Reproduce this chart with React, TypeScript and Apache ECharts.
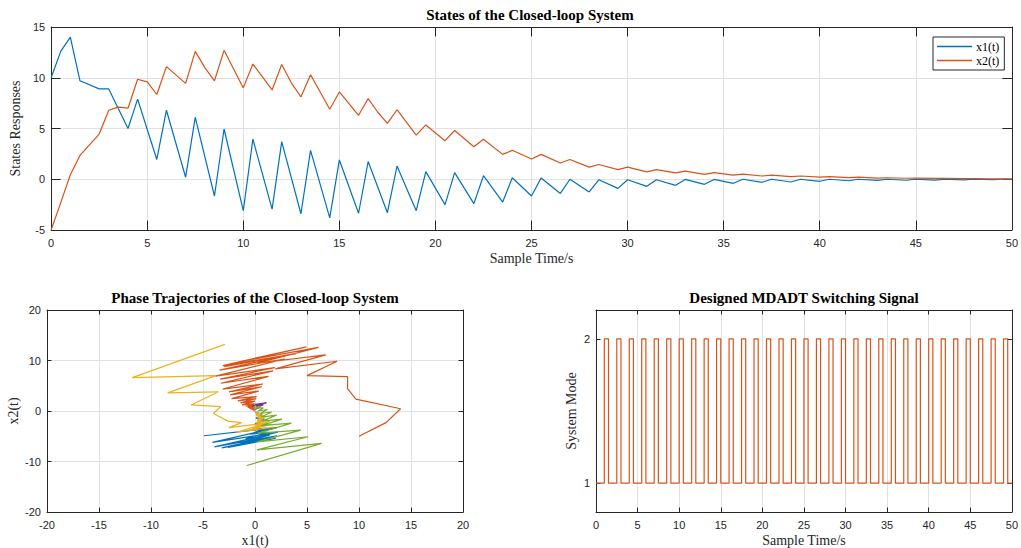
import React, { useEffect, useRef } from "react";
import * as echarts from "echarts";

// ---------- Top chart: states ----------
const x1Time = [0, 0.5, 1, 1.5, 2.5, 3, 4, 4.5, 5.5, 6, 7, 7.5, 8.5, 9, 10, 10.5, 11.5, 12, 13, 13.5, 14.5, 15, 16, 16.5, 17.5, 18, 19, 19.5, 20.5, 21, 22, 22.5, 23.5, 24, 25, 25.5, 26.5, 27, 28, 28.5, 29.5, 30, 31, 31.5, 32.5, 33, 34, 34.5, 35.5, 36, 37, 37.5, 38.5, 39, 40, 40.5, 41.5, 42, 43, 43.5, 44.5, 45, 46, 46.5, 47.5, 48, 49, 49.5, 50];
const x1Values = [10, 12.6, 14.0, 9.7, 8.9, 8.9, 5.0, 7.9, 1.95, 6.8, 0.2, 6.1, -1.65, 4.95, -3.1, 3.95, -2.95, 3.7, -3.4, 2.85, -3.8, 1.9, -3.35, 1.75, -3.3, 1.3, -3.1, 0.75, -2.5, 0.65, -2.4, 0.35, -2.25, 0.15, -1.65, 0.12, -1.4, 0.0, -1.25, -0.05, -0.9, -0.05, -0.7, -0.05, -0.6, -0.02, -0.5, -0.02, -0.4, 0.0, -0.3, 0.0, -0.27, 0.0, -0.2, 0.0, -0.15, 0.0, -0.12, 0.0, -0.1, 0.0, -0.08, 0.0, -0.06, 0.0, -0.04, 0.0, 0.0];

const x2Time = [0, 0.5, 1, 1.5, 2.5, 3, 3.5, 4, 4.5, 5, 5.5, 6, 7, 7.5, 8, 8.5, 9, 10, 10.5, 11.5, 12, 12.5, 13, 13.5, 14.5, 15, 16, 16.5, 17, 17.5, 18, 19, 19.5, 20.5, 21, 22, 22.5, 23.5, 24, 25, 25.5, 26.5, 27, 28, 28.5, 29.5, 30, 31, 31.5, 32.5, 33, 34, 34.5, 35.5, 36, 37, 37.5, 38.5, 39, 40, 40.5, 41.5, 42, 43, 43.5, 44.5, 45, 46, 46.5, 47.5, 48, 49, 49.5, 50];
const x2Values = [-5, -2.3, 0.45, 2.35, 4.45, 6.8, 7.1, 7.0, 9.85, 9.6, 8.35, 11.1, 9.45, 12.6, 11.0, 9.7, 12.7, 9.0, 11.35, 8.8, 11.3, 9.5, 8.1, 10.3, 6.9, 8.6, 6.3, 7.95, 6.6, 5.5, 6.85, 4.35, 5.35, 3.8, 4.8, 3.2, 3.95, 2.45, 2.85, 2.0, 2.45, 1.6, 1.95, 1.2, 1.45, 0.95, 1.2, 0.72, 0.95, 0.62, 0.8, 0.48, 0.65, 0.4, 0.5, 0.32, 0.4, 0.26, 0.32, 0.2, 0.25, 0.16, 0.2, 0.12, 0.15, 0.1, 0.12, 0.08, 0.09, 0.06, 0.07, 0.04, 0.05, 0.03];

// ---------- Phase trajectories (x1, x2) ----------
const phaseBlue = [[-4.9, -4.9], [2.1, -3.3], [-4.1, -6.2], [2.2, -4.2], [-3.9, -7.1], [2.1, -4.9], [-3.2, -7.3], [2.0, -5.4], [-2.6, -7.2], [1.8, -5.5], [-2.0, -6.8], [1.6, -5.3], [-1.4, -6.2], [1.4, -4.8], [-0.9, -5.5], [1.2, -4.2], [-0.5, -4.6], [1.1, -3.4], [-0.2, -3.6], [1.0, -2.6], [0.0, -2.6], [0.9, -1.6], [0.1, -1.4], [0.7, -0.8], [0.1, -0.6], [0.4, -0.3], [0.05, -0.2], [0, 0]];
const phaseYellow = [[-2.9, 13.2], [-11.8, 6.6], [-3.75, 7.0], [-8.4, 3.6], [-3.5, 3.8], [-6.15, 1.2], [-3.3, 0.85], [-4.0, -0.5], [-2.6, -2.0], [-1.3, -2.3], [-2.5, -3.3], [1.2, -2.4], [-1.8, -4.2], [1.8, -3.2], [-0.8, -3.9], [1.6, -2.6], [-0.2, -3.4], [1.4, -2.0], [0.0, -2.9], [1.2, -1.6], [0.1, -2.4], [1.0, -1.2], [0.2, -1.9], [0.8, -0.8], [0.2, -1.4], [0.6, -0.5], [0.1, -1.0], [0.4, -0.3], [0.1, -0.6], [0.2, -0.1], [0, -0.2]];
const phasePurple = [[-0.3, 1.0], [1.1, 1.6], [0.0, 1.3], [0.9, 1.5], [0.1, 1.0], [0.8, 1.2], [0.1, 0.7], [0.5, 0.8], [0, 0.3]];
const phaseGreen = [[-0.8, -10.8], [6.4, -6.4], [0.2, -7.7], [5.1, -5.1], [0.2, -6.1], [4.4, -3.8], [0.3, -4.4], [3.5, -2.4], [0.6, -2.9], [2.6, -1.6], [0.7, -2.0], [2.1, -0.8], [0.6, -1.2], [1.6, -0.2], [0.5, -0.5], [1.2, 0.3], [0.3, 0.0], [0.8, 0.6], [0.1, 0.6], [0.5, 0.9], [-0.1, 0.7], [0, 0.2]];

// ---------- Switching signal ----------
const switchTimes = [0, 1, 1.5, 2.5, 3, 4, 4.5, 5.5, 6, 7, 7.5, 8.5, 9, 10, 10.5, 11.5, 12, 13, 13.5, 14.5, 15, 16, 16.5, 17.5, 18, 19, 19.5, 20.5, 21, 22, 22.5, 23.5, 24, 25, 25.5, 26.5, 27, 28, 28.5, 29.5, 30, 31, 31.5, 32.5, 33, 34, 34.5, 35.5, 36, 37, 37.5, 38.5, 39, 40, 40.5, 41.5, 42, 43, 43.5, 44.5, 45, 46, 46.5, 47.5, 48, 49, 49.5, 50];
const switchModes = [1, 2, 1, 2, 1, 2, 1, 2, 1, 2, 1, 2, 1, 2, 1, 2, 1, 2, 1, 2, 1, 2, 1, 2, 1, 2, 1, 2, 1, 2, 1, 2, 1, 2, 1, 2, 1, 2, 1, 2, 1, 2, 1, 2, 1, 2, 1, 2, 1, 2, 1, 2, 1, 2, 1, 2, 1, 2, 1, 2, 1, 2, 1, 2, 1, 2, 1, 1];
const modeTicks = [1, 2];

const BLUE = "#0072BD";
const ORANGE = "#D95319";
const YELLOW = "#EDB120";
const PURPLE = "#7E2F8E";
const GREEN = "#77AC30";
const AX = "#262626";
const GRID = "#e1e1e1";
const SANS = "'Liberation Sans', Arial, Helvetica, sans-serif";
const SERIF = "'Liberation Serif', 'Times New Roman', serif";

const tickFont = { fontFamily: SANS, fontSize: 11, color: AX };
const nameFont = { fontFamily: SERIF, fontSize: 14, color: AX };

function zip(t: number[], v: number[]) {
  return t.map((tt, i) => [tt, v[i]]);
}

function mainX(grid: number, min: number, max: number, interval: number, name: string, tickLen: number, split = true) {
  return {
    gridIndex: grid, type: "value", min, max, interval, position: "bottom",
    name, nameLocation: "middle", nameGap: 21, nameTextStyle: nameFont,
    axisLine: { show: true, onZero: false, lineStyle: { color: AX, width: 1 } },
    axisTick: { show: true, inside: true, length: tickLen, lineStyle: { color: AX } },
    axisLabel: { margin: 7, ...tickFont },
    splitLine: { show: split, lineStyle: { color: GRID, width: 1 } },
  };
}
function boxX(grid: number, min: number, max: number, interval: number, tickLen: number) {
  return {
    gridIndex: grid, type: "value", min, max, interval, position: "top",
    axisLine: { show: true, onZero: false, lineStyle: { color: AX, width: 1 } },
    axisTick: { show: true, inside: true, length: tickLen, lineStyle: { color: AX } },
    axisLabel: { show: false }, splitLine: { show: false },
  };
}
function mainY(grid: number, min: number, max: number, interval: number | undefined, name: string, tickLen: number, gap: number, extra: any = {}) {
  return {
    gridIndex: grid, type: "value", min, max, interval, position: "left",
    name, nameLocation: "middle", nameGap: gap, nameTextStyle: nameFont,
    axisLine: { show: true, onZero: false, lineStyle: { color: AX, width: 1 } },
    axisTick: { show: true, inside: true, length: tickLen, lineStyle: { color: AX }, ...(extra.tick || {}) },
    axisLabel: { margin: 6, ...tickFont, ...(extra.label || {}) },
    splitLine: { show: extra.split !== false, lineStyle: { color: GRID, width: 1 } },
  };
}
function boxY(grid: number, min: number, max: number, interval: number | undefined, tickLen: number, extra: any = {}) {
  return {
    gridIndex: grid, type: "value", min, max, interval, position: "right",
    axisLine: { show: true, onZero: false, lineStyle: { color: AX, width: 1 } },
    axisTick: { show: true, inside: true, length: tickLen, lineStyle: { color: AX }, ...(extra.tick || {}) },
    axisLabel: { show: false }, splitLine: { show: false },
  };
}

function lineSeries(name: string, data: any[], color: string, xi: number, extra: any = {}) {
  return {
    name, type: "line", data, xAxisIndex: xi, yAxisIndex: xi,
    symbol: "none", showSymbol: false, silent: true,
    lineStyle: { color, width: 1.2 }, itemStyle: { color },
    ...extra,
  };
}

export default function App() {
  const ref = useRef<HTMLDivElement>(null);
  useEffect(() => {
    document.body.style.margin = "0";
    const chart = echarts.init(ref.current!, null, { renderer: "svg" });

    const x2Map = new Map<number, number>();
    x2Time.forEach((t, i) => x2Map.set(t, x2Values[i]));
    const phaseOrange = x1Time.filter((t) => x2Map.has(t)).map((t) => [x1Values[x1Time.indexOf(t)], x2Map.get(t)]);

    const titleStyle = { fontFamily: SERIF, fontSize: 15, fontWeight: "bold", color: "#000" };
    const option: any = {
      animation: false,
      backgroundColor: "#fff",
      title: [
        { text: "States of the Closed-loop System", left: 530, top: 7, textAlign: "center", textStyle: titleStyle, padding: 0 },
        { text: "Phase Trajectories of the Closed-loop System", left: 255, top: 290, textAlign: "center", textStyle: titleStyle, padding: 0 },
        { text: "Designed MDADT Switching Signal", left: 804, top: 290, textAlign: "center", textStyle: titleStyle, padding: 0 },
      ],
      legend: {
        data: [
          { name: "x1(t)", icon: "rect" },
          { name: "x2(t)", icon: "rect" },
        ],
        orient: "vertical", left: 933, top: 37,
        itemWidth: 35, itemHeight: 1.6, itemGap: 1, padding: [3, 5, 3, 4],
        borderColor: AX, borderWidth: 1, backgroundColor: "#fff",
        textStyle: { fontFamily: SERIF, fontSize: 12, color: "#000", lineHeight: 13, padding: [0, 0, 0, -1] },
      },
      grid: [
        { left: 47, top: 27, width: 966, height: 203 },
        { left: 47, top: 310, width: 416, height: 202 },
        { left: 596, top: 310, width: 417, height: 202 },
      ],
      xAxis: [
        mainX(0, 0, 50, 5, "Sample Time/s", 9.5),
        boxX(0, 0, 50, 5, 9.5),
        mainX(1, -20, 20, 5, "x1(t)", 4.5),
        boxX(1, -20, 20, 5, 4.5),
        mainX(2, 0, 50, 5, "Sample Time/s", 4.5),
        boxX(2, 0, 50, 5, 4.5),
      ],
      yAxis: [
        mainY(0, -5, 15, 5, "States Responses", 9.5, 24),
        boxY(0, -5, 15, 5, 9.5),
        mainY(1, -20, 20, 10, "x2(t)", 4.5, 27),
        boxY(1, -20, 20, 10, 4.5),
        mainY(2, 0.8, 2.2, undefined, "System Mode", 4.5, 18, {
          tick: { customValues: modeTicks },
          label: { customValues: modeTicks },
          split: false,
        }),
        boxY(2, 0.8, 2.2, undefined, 4.5, { tick: { customValues: modeTicks } }),
      ],
      series: [
        lineSeries("x1(t)", zip(x1Time, x1Values), BLUE, 0),
        lineSeries("x2(t)", zip(x2Time, x2Values), ORANGE, 0),
        lineSeries("p1", phaseBlue, BLUE, 2),
        lineSeries("p2", phaseOrange, ORANGE, 2),
        lineSeries("p3", phaseYellow, YELLOW, 2),
        lineSeries("p4", phasePurple, PURPLE, 2),
        lineSeries("p5", phaseGreen, GREEN, 2),
        lineSeries("mode", zip(switchTimes, switchModes), ORANGE, 4, { step: "end" }),
      ],
    };
    chart.setOption(option);
    return () => chart.dispose();
  }, []);
  return <div ref={ref} style={{ width: 1021, height: 548 }} />;
}
